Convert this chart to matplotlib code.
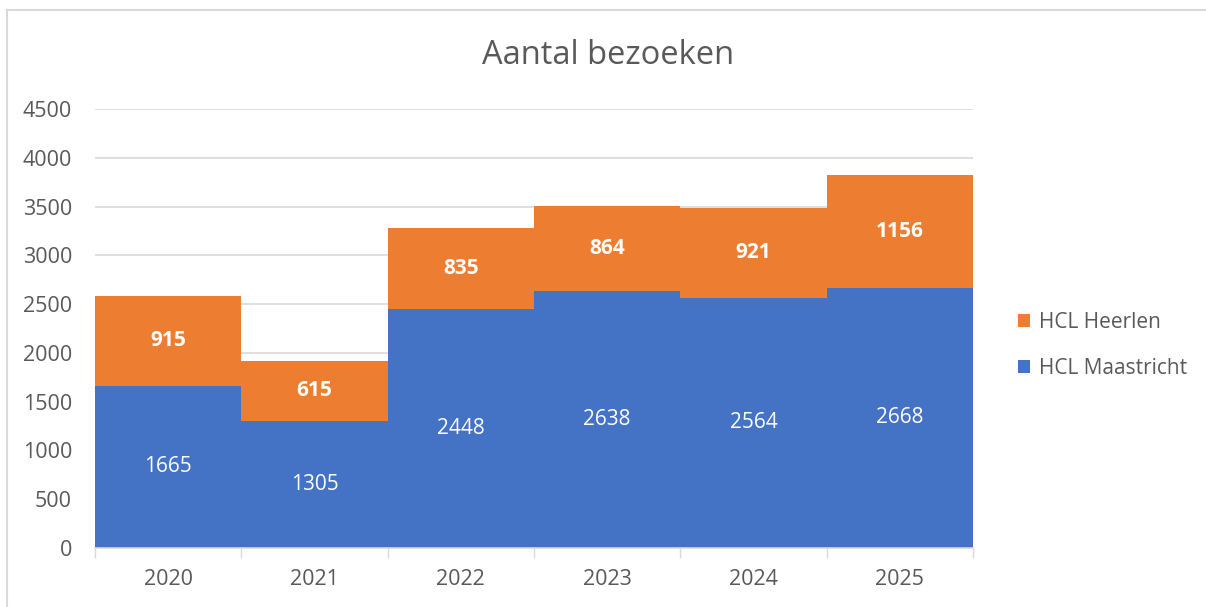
import numpy as np
import matplotlib
matplotlib.use('Agg')
import matplotlib.pyplot as plt
from matplotlib.lines import Line2D

plt.rcParams['font.family'] = ['Open Sans', 'DejaVu Sans']

years = ['2020', '2021', '2022', '2023', '2024', '2025']
maastricht = [1665, 1305, 2448, 2638, 2564, 2668]
heerlen = [915, 615, 835, 864, 921, 1156]

blue = '#4472C4'
orange = '#ED7D31'
grey_text = '#595959'
grid_col = '#D9D9D9'

fig = plt.figure(figsize=(12.06, 6.07), dpi=100)
ax = fig.add_axes([95 / 1206, 1 - 548 / 607, 878 / 1206, 439 / 607])

x = np.arange(len(years))
ax.bar(x, maastricht, width=1.0, color=blue, label='HCL Maastricht', zorder=2)
ax.bar(x, heerlen, width=1.0, bottom=maastricht, color=orange, label='HCL Heerlen', zorder=2)

# data labels in the middle of each segment
for i in range(len(years)):
    ax.text(x[i], maastricht[i] / 2, str(maastricht[i]), ha='center', va='center',
            color='white', fontsize=15, zorder=3)
    ax.text(x[i], maastricht[i] + heerlen[i] / 2, str(heerlen[i]), ha='center', va='center',
            color='white', fontsize=15, fontweight='bold', zorder=3)

ax.set_xlim(-0.5, len(years) - 0.5)
ax.set_ylim(0, 4500)
ax.set_yticks(np.arange(0, 4501, 500))
ax.yaxis.grid(True, color=grid_col, linewidth=1.2, zorder=0)
ax.set_axisbelow(True)

ax.set_xticks(x)
ax.set_xticklabels(years)
ax.set_xticks(np.arange(-0.5, len(years)), minor=True)
ax.tick_params(axis='x', which='major', length=0, pad=15, labelsize=15.5, labelcolor=grey_text)
ax.tick_params(axis='x', which='minor', length=7, width=1, color=grid_col)
ax.tick_params(axis='y', length=0, pad=16.5, labelsize=15.5, labelcolor=grey_text)

for side in ['top', 'right', 'left']:
    ax.spines[side].set_visible(False)
ax.spines['bottom'].set_color(grid_col)
ax.spines['bottom'].set_linewidth(1.2)

fig.text(608 / 1206, 1 - 55 / 607, 'Aantal bezoeken', ha='center', va='center',
         fontsize=23.5, color=grey_text)

handles, labels = ax.get_legend_handles_labels()
leg = fig.legend(handles[::-1], labels[::-1], loc='center left',
                 bbox_to_anchor=(999 / 1206, 1 - 345 / 607), frameon=False,
                 fontsize=15, labelcolor=grey_text, handlelength=0.6, handleheight=0.6,
                 handletextpad=0.4, labelspacing=1.2)

# light frame around the chart
fig.add_artist(Line2D([7 / 1206, 7 / 1206], [0, 1 - 10 / 607], color=grid_col, linewidth=1.5))
fig.add_artist(Line2D([7 / 1206, 1], [1 - 10 / 607, 1 - 10 / 607], color=grid_col, linewidth=1.5))

fig.savefig('out.png', dpi=100)
